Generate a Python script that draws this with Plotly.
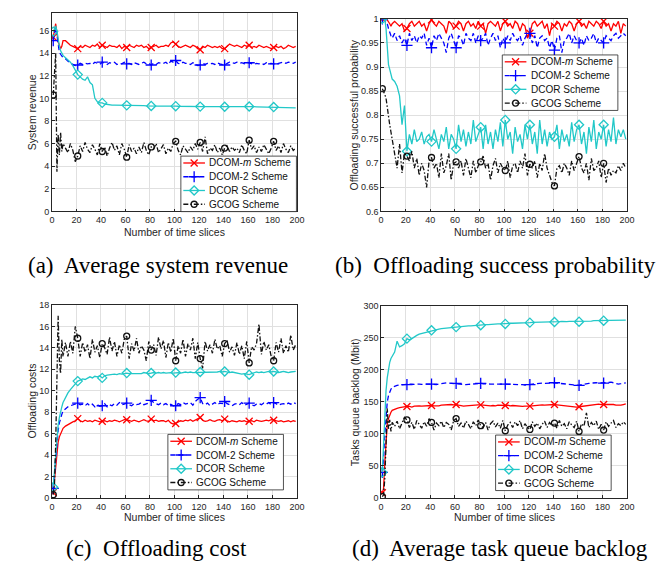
import plotly.graph_objects as go

# ---------------- shared x (time slices) ----------------
x_slices = [1, 2, 3, 4, 5, 6, 7, 8, 9] + list(range(11, 200, 2))
marker_slices = [1, 21, 41, 61, 81, 101, 121, 141, 161, 181]
x_ticks = [0, 20, 40, 60, 80, 100, 120, 140, 160, 180, 200]
series_names = ["DCOM-<i>m</i> Scheme", "DCOM-2 Scheme", "DCOR Scheme", "GCOG Scheme"]

# ---------------- (a) Average system revenue ----------------
rev_dcom_m = [15.4, 15.9, 16.6, 15.8, 15.0, 14.7, 14.4, 14.6, 15.1,
              15.1, 14.9, 14.7, 14.6, 14.5, 14.4, 14.6, 14.5, 14.7, 14.6,
              14.5, 14.7, 14.6, 14.8, 14.5, 14.7, 14.6, 14.5, 14.7, 14.6,
              14.6, 14.5, 14.7, 14.4, 14.6, 14.5, 14.7, 14.6, 14.5, 14.7,
              14.6, 14.7, 14.5, 14.6, 14.4, 14.5, 14.6, 14.7, 14.5, 14.6,
              14.6, 14.7, 14.6, 14.9, 15.0, 14.8, 14.6, 14.5, 14.6, 14.7,
              14.6, 14.5, 14.7, 14.6, 14.4, 14.3, 14.6, 14.5, 14.7, 14.6,
              14.5, 14.6, 14.5, 14.6, 14.4, 14.4, 14.6, 14.8, 14.7, 14.6,
              14.7, 14.6, 14.5, 14.7, 14.6, 14.7, 14.5, 14.6, 14.5, 14.7,
              14.6, 14.5, 14.6, 14.5, 14.4, 14.5, 14.6, 14.5, 14.6, 14.4,
              14.5, 14.7, 14.6, 14.5, 14.6]
rev_dcom_2 = [15.1, 15.6, 16.3, 15.6, 14.6, 14.1, 13.9, 13.7, 13.6,
              13.5, 13.3, 13.1, 13.0, 12.9, 12.95, 13.1, 13.0, 13.1, 13.05,
              13.1, 13.0, 13.2, 13.1, 13.0, 13.2, 13.1, 13.0, 13.15, 13.1,
              13.2, 13.0, 13.1, 13.05, 13.2, 13.05, 13.1, 13.0, 13.15, 13.1,
              13.0, 13.1, 13.2, 13.05, 13.1, 12.95, 13.1, 13.0, 13.15, 13.1,
              13.1, 13.2, 13.0, 13.3, 13.2, 13.35, 13.1, 13.05, 13.2, 13.1,
              13.1, 13.0, 13.15, 13.05, 12.9, 12.95, 13.1, 13.0, 13.1, 13.05,
              13.1, 13.0, 13.15, 13.05, 13.0, 12.95, 13.1, 13.2, 13.15, 13.1,
              13.2, 13.1, 13.15, 13.05, 13.2, 13.15, 13.1, 13.0, 13.1, 13.05,
              13.1, 13.0, 13.15, 13.05, 13.1, 13.05, 13.0, 13.1, 13.15, 13.2,
              13.1, 13.2, 13.15, 13.1, 13.2]
rev_dcor = [15.9, 16.2, 16.4, 16.0, 15.2, 14.6, 14.2, 14.0, 13.8,
            13.6, 13.4, 13.2, 12.9, 12.5, 12.1, 11.9, 11.7, 11.6, 11.9,
            11.4, 11.2, 10.0, 9.7, 9.6, 9.6, 9.5, 9.45, 9.45, 9.4,
            9.4, 9.4, 9.38, 9.4, 9.37, 9.38, 9.36, 9.37, 9.35, 9.36,
            9.35, 9.34, 9.35, 9.33, 9.34, 9.33, 9.32, 9.33, 9.32, 9.31,
            9.32, 9.3, 9.31, 9.3, 9.3, 9.31, 9.3, 9.29, 9.3, 9.28,
            9.29, 9.28, 9.28, 9.27, 9.27, 9.27, 9.26, 9.27, 9.26, 9.26,
            9.27, 9.26, 9.26, 9.25, 9.26, 9.26, 9.25, 9.26, 9.25, 9.26,
            9.27, 9.26, 9.27, 9.28, 9.27, 9.28, 9.27, 9.26, 9.25, 9.24,
            9.24, 9.25, 9.24, 9.23, 9.24, 9.23, 9.22, 9.21, 9.2, 9.2,
            9.19, 9.18, 9.17, 9.16, 9.15]
rev_gcog = [10.3, 12.5, 14.0, 3.5, 6.8, 5.0, 7.0, 5.3, 6.0,
            5.6, 5.2, 6.0, 5.4, 4.4, 4.9, 5.8, 5.3, 6.1, 5.5,
            5.2, 5.9, 5.5, 5.0, 6.0, 5.3, 5.7, 4.9, 5.6, 6.1,
            5.4, 5.8, 5.0, 6.0, 5.5, 4.8, 5.9, 5.3, 5.6, 5.1,
            5.7, 5.2, 6.1, 5.4, 5.0, 5.7, 5.5, 6.0, 5.2, 5.6,
            5.9, 5.1, 5.6, 5.3, 6.0, 6.2, 5.4, 5.0, 5.8, 5.5,
            5.2, 5.7, 5.4, 6.0, 5.5, 6.1, 5.3, 6.6, 5.1, 5.6,
            5.4, 5.9, 5.2, 5.6, 5.0, 5.6, 5.8, 5.3, 5.7, 5.4,
            5.6, 5.2, 5.9, 5.4, 5.1, 6.3, 5.5, 5.8, 5.2, 5.7,
            5.3, 5.9, 5.5, 5.1, 5.6, 6.2, 5.4, 5.8, 5.2, 6.0,
            5.5, 5.2, 5.8, 5.4, 5.6]

# ---------------- (b) Offloading success probability ----------------
prob_dcom_m = [1.0, 1.0, 1.0, 1.0, 0.998, 0.995, 0.99, 0.985, 0.99,
               0.995, 0.99, 0.985, 0.99, 0.975, 0.98, 0.99, 0.995, 0.985, 0.99,
               0.995, 0.985, 0.99, 0.975, 0.99, 0.998, 0.99, 0.985, 0.995, 0.99,
               0.985, 0.97, 0.995, 0.99, 0.98, 0.985, 0.995, 0.99, 0.975, 0.99,
               0.995, 0.985, 0.99, 0.98, 0.995, 0.985, 0.99, 0.97, 0.99, 0.995,
               0.99, 0.985, 0.995, 0.975, 0.99, 0.995, 0.985, 0.99, 0.98, 0.995,
               0.99, 0.975, 0.99, 0.985, 0.96, 0.97, 0.99, 0.995, 0.985, 0.99,
               0.995, 0.98, 0.99, 0.965, 0.99, 0.985, 0.995, 0.99, 0.975, 0.99,
               0.985, 0.995, 0.99, 0.975, 0.99, 0.995, 0.985, 0.99, 0.98, 0.995,
               0.99, 0.985, 0.995, 0.99, 0.98, 0.995, 0.985, 0.99, 0.975, 0.99,
               0.985, 0.995, 0.97, 0.99, 0.985]
prob_dcom_2 = [1.0, 1.0, 1.0, 0.995, 0.99, 0.98, 0.97, 0.965, 0.96,
               0.97, 0.955, 0.965, 0.95, 0.96, 0.945, 0.97, 0.955, 0.965, 0.95,
               0.965, 0.96, 0.97, 0.945, 0.96, 0.94, 0.965, 0.955, 0.97, 0.96,
               0.95, 0.93, 0.96, 0.97, 0.955, 0.94, 0.965, 0.96, 0.945, 0.97,
               0.96, 0.955, 0.97, 0.95, 0.965, 0.955, 0.96, 0.97, 0.945, 0.96,
               0.97, 0.955, 0.965, 0.94, 0.96, 0.95, 0.965, 0.955, 0.97, 0.96,
               0.955, 0.965, 0.945, 0.96, 0.97, 0.97, 0.95, 0.965, 0.94, 0.96,
               0.965, 0.955, 0.96, 0.94, 0.955, 0.935, 0.96, 0.965, 0.93, 0.955,
               0.96, 0.97, 0.95, 0.965, 0.955, 0.95, 0.96, 0.945, 0.965, 0.955,
               0.96, 0.97, 0.95, 0.96, 0.955, 0.95, 0.965, 0.96, 0.955, 0.965,
               0.97, 0.96, 0.965, 0.97, 0.965]
prob_dcor = [1.0, 1.0, 1.0, 0.98, 0.95, 0.905, 0.895, 0.885, 0.875,
             0.87, 0.86, 0.84, 0.78, 0.82, 0.725, 0.76, 0.74, 0.77, 0.745,
             0.75, 0.765, 0.74, 0.755, 0.76, 0.745, 0.77, 0.75, 0.73, 0.76,
             0.745, 0.775, 0.73, 0.76, 0.75, 0.73, 0.78, 0.745, 0.77, 0.735,
             0.765, 0.74, 0.79, 0.745, 0.76, 0.775, 0.73, 0.78, 0.74, 0.765,
             0.73, 0.77, 0.745, 0.785, 0.735, 0.79, 0.75, 0.765, 0.72, 0.775,
             0.745, 0.76, 0.73, 0.78, 0.75, 0.78, 0.74, 0.765, 0.72, 0.79,
             0.74, 0.77, 0.735, 0.765, 0.75, 0.755, 0.78, 0.73, 0.77, 0.745,
             0.76, 0.735, 0.785, 0.745, 0.77, 0.78, 0.74, 0.765, 0.72, 0.775,
             0.745, 0.79, 0.73, 0.765, 0.75, 0.78, 0.735, 0.77, 0.745, 0.795,
             0.74, 0.77, 0.755, 0.77, 0.75]
prob_gcog = [0.855, 0.85, 0.843, 0.835, 0.815, 0.79, 0.78, 0.765, 0.75,
             0.72, 0.69, 0.74, 0.68, 0.72, 0.715, 0.705, 0.725, 0.69, 0.71,
             0.675, 0.7, 0.685, 0.65, 0.705, 0.712, 0.69, 0.7, 0.67, 0.72,
             0.68, 0.695, 0.72, 0.665, 0.7, 0.703, 0.69, 0.705, 0.675, 0.71,
             0.69, 0.67, 0.705, 0.68, 0.695, 0.703, 0.715, 0.69, 0.7, 0.665,
             0.695, 0.71, 0.68, 0.7, 0.69, 0.685, 0.705, 0.67, 0.695, 0.7,
             0.68, 0.705, 0.69, 0.72, 0.675, 0.698, 0.69, 0.705, 0.67, 0.7,
             0.685, 0.72, 0.69, 0.675, 0.66, 0.653, 0.69, 0.695, 0.68, 0.7,
             0.69, 0.675, 0.705, 0.685, 0.7, 0.714, 0.69, 0.68, 0.7, 0.665,
             0.71, 0.685, 0.69, 0.705, 0.67, 0.7, 0.66, 0.69, 0.675, 0.685,
             0.68, 0.695, 0.685, 0.7, 0.69]

# ---------------- (c) Offloading cost ----------------
cost_dcom_m = [0.5, 1.8, 3.4, 4.5, 5.2, 5.7, 6.0, 6.3, 6.5,
               6.7, 6.85, 7.0, 7.1, 7.2, 7.4, 7.2, 7.1, 7.25, 7.15,
               7.2, 7.1, 7.25, 7.15, 7.1, 7.15, 7.2, 7.1, 7.2, 7.15,
               7.25, 7.2, 7.1, 7.2, 7.3, 7.3, 7.2, 7.15, 7.25, 7.2,
               7.1, 7.2, 7.3, 7.2, 7.15, 7.35, 7.2, 7.25, 7.15, 7.2,
               7.2, 7.1, 7.25, 7.0, 6.9, 6.95, 7.1, 7.2, 7.15, 7.25,
               7.2, 7.3, 7.15, 7.25, 7.4, 7.5, 7.25, 7.15, 7.2, 7.3,
               7.2, 7.15, 7.25, 7.3, 7.2, 7.35, 7.2, 7.1, 7.2, 7.15,
               7.1, 7.2, 7.15, 7.2, 7.1, 7.15, 7.2, 7.1, 7.25, 7.2,
               7.15, 7.2, 7.25, 7.2, 7.3, 7.25, 7.2, 7.15, 7.2, 7.1,
               7.15, 7.2, 7.1, 7.2, 7.15]
cost_dcom_2 = [0.9, 2.2, 4.0, 5.3, 6.3, 7.0, 7.5, 7.8, 8.1,
               8.3, 8.5, 8.6, 8.7, 8.8, 8.85, 8.7, 8.75, 8.6, 8.8,
               8.6, 8.75, 8.5, 8.7, 8.55, 8.6, 8.8, 8.5, 8.7, 8.6,
               8.8, 8.65, 8.9, 8.7, 8.75, 8.85, 8.7, 8.6, 8.8, 8.7,
               8.75, 8.9, 8.7, 8.8, 8.85, 9.1, 8.9, 8.8, 8.7, 8.85,
               8.7, 8.8, 8.6, 8.75, 8.6, 8.6, 8.8, 8.7, 8.9, 8.75,
               8.8, 8.9, 8.65, 9.0, 9.2, 9.35, 8.8, 8.7, 8.85, 8.6,
               8.75, 8.9, 8.7, 8.85, 8.8, 9.0, 8.8, 8.7, 8.6, 8.75,
               8.8, 8.7, 8.9, 8.65, 8.75, 8.85, 8.7, 8.6, 8.75, 8.8,
               8.7, 8.85, 8.75, 8.9, 8.7, 8.9, 8.8, 8.65, 8.75, 8.8,
               8.7, 8.85, 8.75, 8.9, 8.8]
cost_dcor = [1.0, 2.5, 4.5, 5.8, 6.8, 7.5, 8.1, 8.5, 8.9,
             9.4, 9.8, 10.1, 10.4, 10.7, 10.9, 11.0, 11.1, 11.05, 11.2,
             11.3, 11.2, 11.35, 11.3, 11.4, 11.2, 11.4, 11.45, 11.5, 11.5,
             11.55, 11.5, 11.6, 11.55, 11.6, 11.65, 11.6, 11.6, 11.65, 11.6,
             11.65, 11.6, 11.7, 11.65, 11.6, 11.65, 11.7, 11.65, 11.7, 11.65,
             11.7, 11.65, 11.7, 11.7, 11.65, 11.7, 11.7, 11.65, 11.7, 11.75,
             11.7, 11.75, 11.7, 11.7, 11.75, 11.75, 11.7, 11.75, 11.7, 11.75,
             11.75, 11.7, 11.75, 11.8, 11.75, 11.8, 11.75, 11.7, 11.75, 11.7,
             11.65, 11.6, 11.55, 11.6, 11.55, 11.5, 11.6, 11.7, 11.75, 11.7,
             11.75, 11.7, 11.75, 11.8, 11.75, 11.8, 11.75, 11.7, 11.75, 11.8,
             11.75, 11.7, 11.75, 11.8, 11.8]
cost_gcog = [0.3, 1.2, 5.0, 11.5, 17.0, 12.8, 11.6, 14.8, 13.2,
             14.5, 13.2, 14.6, 13.5, 16.0, 14.9, 13.2, 14.5, 13.6, 14.3,
             13.0, 14.8, 13.6, 14.2, 13.1, 14.4, 14.0, 13.4, 15.0, 13.7,
             14.6, 13.2, 14.3, 13.5, 14.8, 15.1, 13.0, 14.4, 13.7, 14.9,
             13.5, 14.2, 13.8, 12.8, 14.6, 13.8, 14.3, 13.3, 15.0, 13.9,
             14.7, 13.1, 14.5, 13.6, 14.9, 12.8, 14.2, 13.5, 14.8, 13.2,
             14.4, 13.8, 14.9, 13.0, 14.5, 13.0, 12.1, 14.6, 13.7, 14.3,
             13.5, 14.8, 13.9, 14.2, 13.2, 14.4, 14.7, 13.6, 14.1, 13.3,
             14.5, 13.4, 14.2, 13.0, 14.6, 12.6, 14.1, 13.8, 14.4, 16.2,
             13.4, 14.6, 13.8, 14.3, 13.2, 12.8, 14.5, 13.6, 14.9, 13.5,
             14.2, 13.6, 15.2, 13.8, 14.3]

# ---------------- (d) Average task queue backlog ----------------
queue_dcom_m = [8, 15, 55, 98, 115, 124, 130, 134, 137,
                139, 140, 141, 142, 142.5, 143, 143, 142, 143.5, 144,
                144, 143.5, 144, 144.5, 144, 144.5, 144, 143.5, 144, 145,
                145.5, 146, 146.5, 146, 145.5, 146, 145, 144, 143.5, 144,
                144.5, 145, 145.5, 145, 145.5, 145.5, 145, 145, 144.5, 144,
                144.5, 144, 145, 144.5, 144.5, 144.5, 145, 144, 144.5, 144,
                144, 143.5, 143, 143.5, 143, 143.5, 144, 144.5, 145, 145,
                145.5, 145, 145.5, 146, 146, 146, 145.5, 145, 144.5, 144,
                143.5, 143, 142.5, 143, 142, 142.5, 143, 144, 145, 145.5,
                145, 145.5, 146, 146.5, 146, 146, 146.5, 146, 147, 146,
                145, 144.5, 145, 146, 147]
queue_dcom_2 = [40, 62, 100, 130, 150, 160, 166, 170, 173,
                175, 176, 176.5, 177, 177, 177, 177.5, 178, 177.5, 178,
                178, 177.5, 178, 178.5, 178, 178, 177.5, 177, 178, 179,
                179.5, 180, 179.5, 179, 178.5, 179, 178.5, 177, 176.5, 177,
                177.5, 178, 178.5, 179, 179, 179, 178.5, 178, 177.5, 178,
                178, 178.5, 178, 178, 178, 178, 177.5, 177, 177.5, 178,
                178, 177.5, 177, 176.5, 177, 177, 178, 178.5, 179, 179.5,
                179.5, 179, 179.5, 180, 180, 180, 179.5, 179, 178.5, 178,
                177.5, 177, 176.5, 176, 176, 176, 177, 178, 178.5, 179,
                179.5, 180, 180, 179.5, 179.5, 179.5, 180, 180.5, 181, 180,
                179, 178, 178.5, 179.5, 180]
queue_dcor = [40, 85, 135, 168, 188, 202, 212, 218, 222,
              228, 245, 236, 238, 241, 249, 247, 249, 252, 254,
              256, 257, 258, 259, 260, 262, 262.5, 263, 264, 264.5,
              265, 265.5, 266, 266, 266.5, 267, 267.5, 268, 268, 268.5,
              269, 269, 269.5, 269.5, 270, 270, 270.5, 271, 271, 271.5,
              271.5, 272, 272, 272, 272.5, 272, 272.5, 273, 273, 273,
              273, 273.5, 273.5, 274, 274, 274, 274.5, 274.5, 274.5, 275,
              275, 275, 275, 275.5, 275.5, 275, 275.5, 275.5, 276, 275.5,
              275.5, 276, 276, 275.5, 276, 275.5, 276, 276, 276.5, 276.5,
              276.5, 277, 277, 277, 277, 277, 277.5, 277.5, 277.5, 277.5,
              277.5, 277.5, 278, 278, 278]
queue_gcog = [2, 5, 30, 95, 140, 108, 122, 104, 118,
              112, 120, 108, 116, 126, 122, 110, 118, 107, 121,
              114, 109, 119, 112, 124, 118, 106, 117, 113, 120,
              110, 118, 115, 106, 121, 124, 112, 117, 109, 120,
              115, 108, 119, 113, 122, 113, 110, 118, 106, 116,
              120, 111, 117, 109, 121, 105, 114, 118, 110, 119,
              113, 121, 108, 116, 110, 107, 119, 112, 117, 108,
              115, 120, 110, 118, 113, 117, 109, 121, 112, 116,
              108, 119, 114, 110, 120, 104, 116, 112, 133, 110,
              118, 113, 120, 107, 115, 106, 119, 112, 117, 121,
              110, 116, 113, 119, 115]

# ---------------- styles ----------------
RED, BLUE, CYAN, BLACK = "#FF0000", "#0000FF", "#22C8C8", "#111111"
styles = [
    dict(color=RED, dash="solid", symbol="x-thin-open", msize=7),
    dict(color=BLUE, dash="5px,3px", symbol="cross-thin-open", msize=8),
    dict(color=CYAN, dash="solid", symbol="diamond-open", msize=7),
    dict(color=BLACK, dash="5px,2px,1.5px,2px", symbol="circle-open", msize=6),
]
LW = 1.3

W, H = 669, 563
def px_x(p):
    return p / W
def px_y(p):
    return 1 - p / H

panels = [
    dict(series=[rev_dcom_m, rev_dcom_2, rev_dcor, rev_gcog],
         xd=[px_x(41.7), px_x(290.7)], yd=[px_y(202), px_y(0)],
         yr=[0, 17.55], ytv=[0, 2, 4, 6, 8, 10, 12, 14, 16], ytt=None,
         ytitle="System revenue", ytitle_x=21.5, xtitle_y=223,
         caption="(a)  Average system revenue", cap_x=149, cap_y=257,
         leg=(172.7, 145.7)),
    dict(series=[prob_dcom_m, prob_dcom_2, prob_dcor, prob_gcog],
         xd=[px_x(376.3), px_x(626.3)], yd=[px_y(202), px_y(6)],
         yr=[0.6, 1.0], ytv=[0.6, 0.65, 0.7, 0.75, 0.8, 0.85, 0.9, 0.95, 1.0],
         ytt=["0.6", "0.65", "0.7", "0.75", "0.8", "0.85", "0.9", "0.95", "1"],
         ytitle="Offloading successful probability", ytitle_x=349, xtitle_y=223,
         caption="(b)  Offloading success probability", cap_x=493, cap_y=257,
         leg=(499.5, 42.7)),
    dict(series=[cost_dcom_m, cost_dcom_2, cost_dcor, cost_gcog],
         xd=[px_x(41.7), px_x(290.7)], yd=[px_y(493.7), px_y(297.3)],
         yr=[0, 18], ytv=[0, 2, 4, 6, 8, 10, 12, 14, 16, 18], ytt=None,
         ytitle="Offloading costs", ytitle_x=21.5, xtitle_y=513,
         caption="(c)  Offloading cost", cap_x=148, cap_y=545,
         leg=(159.5, 429.0)),
    dict(series=[queue_dcom_m, queue_dcom_2, queue_dcor, queue_gcog],
         xd=[px_x(376.3), px_x(626.3)], yd=[px_y(493.7), px_y(298.3)],
         yr=[0, 300], ytv=[0, 50, 100, 150, 200, 250, 300], ytt=None,
         ytitle="Tasks queue backlog (Mbit)", ytitle_x=350, xtitle_y=513,
         caption="(d)  Average task queue backlog", cap_x=497, cap_y=545,
         leg=(492.7, 429.7)),
]

LEG_W, LEG_H = 117.5, 56.5
LEG_ROWS = [7.0, 21.0, 35.0, 49.0]

fig = go.Figure()
annotations = []
TICKFONT = dict(family="Liberation Sans, Arial, sans-serif", size=9, color="#262626")
LABFONT = dict(family="Liberation Sans, Arial, sans-serif", size=10.5, color="#262626")
LEGFONT = dict(family="Liberation Sans, Arial, sans-serif", size=10, color="#111111")

for i, p in enumerate(panels):
    n = i + 1
    xa = "x" if n == 1 else f"x{n}"
    ya = "y" if n == 1 else f"y{n}"
    for s_idx, (yvals, st) in enumerate(zip(p["series"], styles)):
        fig.add_trace(go.Scatter(
            x=x_slices, y=yvals, mode="lines", xaxis=xa, yaxis=ya,
            line=dict(color=st["color"], width=LW, dash=st["dash"]),
            showlegend=False, hoverinfo="skip"))
        mx = [xv for xv in x_slices if xv in marker_slices]
        my = [yv for xv, yv in zip(x_slices, yvals) if xv in marker_slices]
        fig.add_trace(go.Scatter(
            x=mx, y=my, mode="markers", xaxis=xa, yaxis=ya,
            marker=dict(symbol=st["symbol"], size=st["msize"], color=st["color"],
                        line=dict(color=st["color"], width=LW)),
            showlegend=False, hoverinfo="skip"))

    axis_common = dict(showline=True, mirror=True, linecolor="#262626", linewidth=0.8,
                       ticks="inside", ticklen=3, tickcolor="#262626",
                       showgrid=True, gridcolor="#E0E0E0", gridwidth=1,
                       zeroline=False, tickfont=TICKFONT)
    fig.layout[f"xaxis{'' if n == 1 else n}"] = dict(
        domain=p["xd"], range=[0, 200], tickvals=x_ticks, anchor=ya, **axis_common)
    yax = dict(domain=p["yd"], range=p["yr"], tickvals=p["ytv"], anchor=xa, **axis_common)
    if p["ytt"] is not None:
        yax["ticktext"] = p["ytt"]
    fig.layout[f"yaxis{'' if n == 1 else n}"] = yax

    xcen = (p["xd"][0] + p["xd"][1]) / 2
    ycen = (p["yd"][0] + p["yd"][1]) / 2
    annotations.append(dict(text="Number of time slices", x=xcen, y=px_y(p["xtitle_y"]),
                            xref="paper", yref="paper", showarrow=False, font=LABFONT,
                            xanchor="center", yanchor="middle"))
    annotations.append(dict(text=p["ytitle"], x=px_x(p["ytitle_x"]), y=ycen,
                            xref="paper", yref="paper", showarrow=False, font=LABFONT,
                            textangle=-90, xanchor="center", yanchor="middle"))
    annotations.append(dict(text=p["caption"], x=px_x(p["cap_x"]), y=px_y(p["cap_y"]),
                            xref="paper", yref="paper", showarrow=False,
                            font=dict(family="Liberation Serif, DejaVu Serif, serif", size=23, color="#000000"),
                            xanchor="center", yanchor="middle"))

# ---------- legends drawn on a full-page pixel overlay axis ----------
for i, p in enumerate(panels):
    lx, ly = p["leg"]
    fig.add_trace(go.Scatter(
        x=[lx, lx + LEG_W, lx + LEG_W, lx, lx], y=[ly, ly, ly + LEG_H, ly + LEG_H, ly],
        mode="lines", fill="toself", fillcolor="white",
        line=dict(color="#262626", width=0.8), xaxis="x5", yaxis="y5",
        showlegend=False, hoverinfo="skip"))
    for s_idx, st in enumerate(styles):
        ry = ly + LEG_ROWS[s_idx]
        fig.add_trace(go.Scatter(
            x=[lx + 2.5, lx + 24.5], y=[ry, ry], mode="lines",
            line=dict(color=st["color"], width=LW, dash=st["dash"]),
            xaxis="x5", yaxis="y5", showlegend=False, hoverinfo="skip"))
        fig.add_trace(go.Scatter(
            x=[lx + 13.5], y=[ry], mode="markers",
            marker=dict(symbol=st["symbol"], size=st["msize"], color=st["color"],
                        line=dict(color=st["color"], width=LW)),
            xaxis="x5", yaxis="y5", showlegend=False, hoverinfo="skip"))
        annotations.append(dict(text=series_names[s_idx], x=px_x(lx + 27), y=px_y(ry),
                                xref="paper", yref="paper", showarrow=False, font=LEGFONT,
                                xanchor="left", yanchor="middle"))

fig.update_layout(
    width=W, height=H, margin=dict(l=0, r=0, t=0, b=0),
    paper_bgcolor="white", plot_bgcolor="rgba(0,0,0,0)",
    annotations=annotations, showlegend=False,
    xaxis5=dict(domain=[0, 1], range=[0, W], visible=False, anchor="y5", fixedrange=True),
    yaxis5=dict(domain=[0, 1], range=[H, 0], visible=False, anchor="x5", fixedrange=True),
)

fig.write_html("out.html")
